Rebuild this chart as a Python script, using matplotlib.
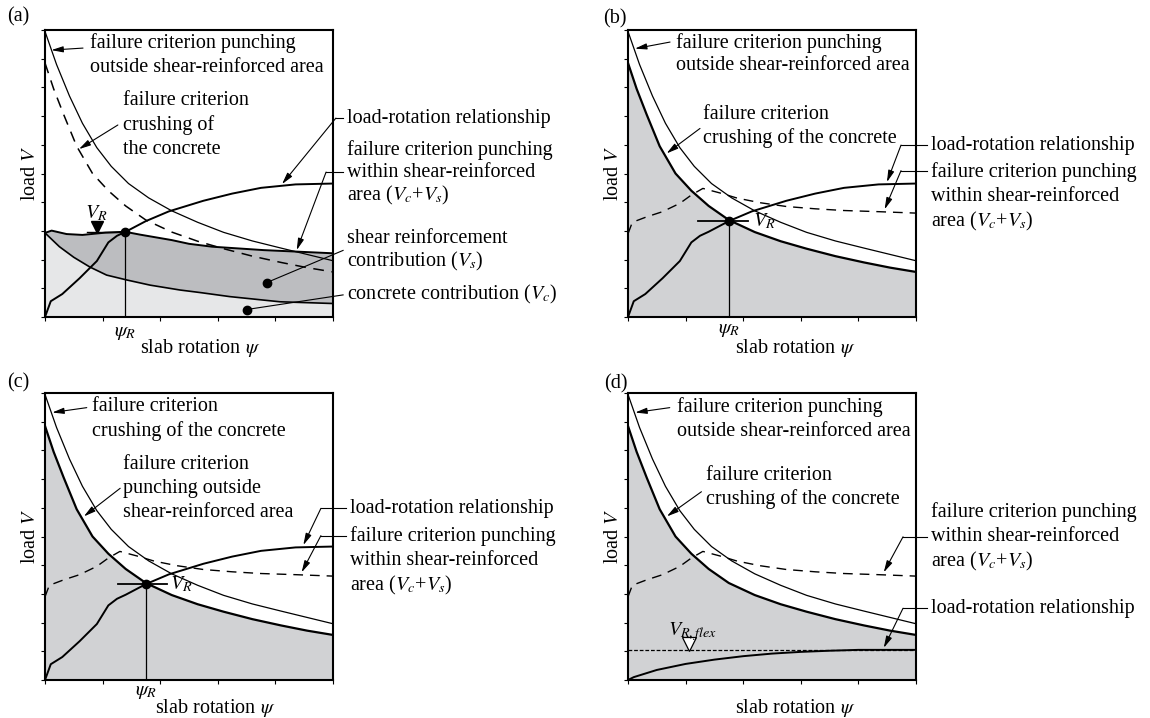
import numpy as np
import matplotlib
matplotlib.use("Agg")
import matplotlib.pyplot as plt

plt.rcParams['font.family'] = ['Liberation Serif', 'DejaVu Serif']
plt.rcParams['mathtext.fontset'] = 'stix'
plt.rcParams['font.size'] = 14.5

# ---- curves (slab rotation psi, load V), normalised 0..1 ----
psi_outer = [0, 0.04, 0.085, 0.13, 0.18, 0.23, 0.29, 0.36, 0.44, 0.53, 0.62, 0.72, 0.82, 0.91, 1.0]
V_outer = [0.995, 0.88, 0.77, 0.675, 0.59, 0.525, 0.465, 0.415, 0.37, 0.33, 0.295, 0.265, 0.24, 0.218, 0.196]

psi_crush = [0, 0.03, 0.065, 0.11, 0.165, 0.22, 0.28, 0.35, 0.44, 0.53, 0.62, 0.72, 0.82, 0.91, 1.0]
V_crush = [0.885, 0.795, 0.705, 0.595, 0.50, 0.44, 0.387, 0.338, 0.296, 0.264, 0.238, 0.212, 0.190, 0.172, 0.157]

psi_lr = [0, 0.02, 0.06, 0.12, 0.18, 0.22, 0.25, 0.28, 0.35, 0.43, 0.55, 0.65, 0.75, 0.87, 1.0]
V_lr = [0, 0.055, 0.08, 0.135, 0.195, 0.26, 0.283, 0.297, 0.334, 0.368, 0.405, 0.430, 0.450, 0.462, 0.465]

# panel (a): concrete + shear reinforcement contributions
psi_vcvs_a = [0, 0.023, 0.075, 0.13, 0.21, 0.278, 0.33, 0.44, 0.50, 0.58, 0.76, 0.87, 1.0]
V_vcvs_a = [0.293, 0.301, 0.289, 0.286, 0.294, 0.297, 0.287, 0.268, 0.255, 0.245, 0.233, 0.228, 0.222]
psi_vc_a = [0, 0.05, 0.1, 0.156, 0.214, 0.284, 0.365, 0.469, 0.54, 0.642, 0.816, 1.0]
V_vc_a = [0.293, 0.245, 0.208, 0.174, 0.146, 0.129, 0.111, 0.094, 0.085, 0.071, 0.053, 0.047]

# panels (b)-(d): punching within shear-reinforced area
psi_vcvs = [0, 0.015, 0.065, 0.12, 0.18, 0.22, 0.26, 0.32, 0.38, 0.46, 0.55, 0.65, 0.75, 0.87, 1.0]
V_vcvs = [0.29, 0.33, 0.349, 0.367, 0.396, 0.425, 0.448, 0.432, 0.414, 0.398, 0.385, 0.377, 0.371, 0.367, 0.362]

# panel (d): flexural failure
psi_lr_d = [0, 0.02, 0.1, 0.2, 0.3, 0.4, 0.5, 0.6, 0.7, 0.8, 1.0]
V_lr_d = [0, 0.01, 0.035, 0.056, 0.071, 0.083, 0.092, 0.098, 0.102, 0.105, 0.105]
V_flex = 0.105

# failure points (psi_R, V_R)
point_a = (0.278, 0.297)
point_bc = (0.352, 0.336)

W, H = 1150, 718
fig = plt.figure(figsize=(W / 100, H / 100), dpi=100)

LIGHT = '#e6e7e8'
DARK = '#bcbdc0'
GREY = '#d1d2d4'
DASH = (7, 5)


def make_axes(left_px, bottom_px):
    ax = fig.add_axes([left_px / W, 1 - bottom_px / H, 288 / W, 287 / H])
    ax.set_xlim(0, 1)
    ax.set_ylim(0, 1)
    ax.set_xticks(np.arange(0, 1.01, 0.2))
    ax.set_yticks(np.arange(0, 1.01, 0.1))
    ax.set_xticklabels([])
    ax.set_yticklabels([])
    ax.tick_params(direction='out', length=3, width=0.8)
    for s in ax.spines.values():
        s.set_linewidth(1.5)
        s.set_zorder(10)
    return ax


def axis_labels(ax, xc, yc=-0.108):
    ax.text(-0.05, 0.5, r"load $V$", rotation=90, ha='center', va='center',
            transform=ax.transAxes)
    ax.text(xc, yc, r"slab rotation $\psi$", ha='center', va='center',
            transform=ax.transAxes)


def block(ax, x, ys, lines):
    for y, s in zip(ys, lines):
        ax.text(x, y, s, ha='left', va='center', clip_on=False)


def arrow(ax, start, tip):
    ax.annotate('', xy=tip, xytext=start, annotation_clip=False,
                arrowprops=dict(arrowstyle='-|>,head_length=0.7,head_width=0.18',
                                color='k', lw=0.8, mutation_scale=10,
                                shrinkA=0, shrinkB=0))


def leader(ax, x_text, x_kink, y, tip):
    ax.plot([x_kink, x_text - 0.012], [y, y], color='k', lw=0.8, clip_on=False)
    arrow(ax, (x_kink, y), tip)


def failure_point(ax, pt, x0, x1, label_x, psi_y=-0.055):
    ax.plot([pt[0], pt[0]], [0, pt[1]], color='k', lw=0.9)
    ax.plot([x0, x1], [pt[1], pt[1]], color='k', lw=1.3)
    ax.plot(*pt, 'o', color='k', ms=6, zorder=6)
    ax.text(label_x, pt[1] - 0.004, r"$V_R$", ha='left', va='center')
    ax.text(pt[0], psi_y, r"$\psi_R$", ha='center', va='center')


# ---------------- (a) ----------------
ax = make_axes(45, 317)
ax.fill_between(psi_vc_a, 0, V_vc_a, color=LIGHT, lw=0)
ax.fill(np.r_[psi_vcvs_a, psi_vc_a[::-1]], np.r_[V_vcvs_a, V_vc_a[::-1]], color=DARK, lw=0)
ax.plot(psi_vc_a, V_vc_a, color='k', lw=1.2)
ax.plot(psi_vcvs_a, V_vcvs_a, color='k', lw=1.4)
ax.plot(psi_outer, V_outer, color='k', lw=0.9)
ax.plot(psi_crush, V_crush, color='k', lw=1.1, dashes=DASH)
ax.plot(psi_lr, V_lr, color='k', lw=1.4)
ax.plot([point_a[0], point_a[0]], [0, point_a[1]], color='k', lw=0.9)
ax.plot([0.145, point_a[0]], [point_a[1], point_a[1]], color='k', lw=1.0)
ax.plot(*point_a, 'o', color='k', ms=6, zorder=6)
ax.plot(0.182, point_a[1] + 0.016, 'v', color='k', ms=8)
ax.text(0.179, 0.361, r"$V_R$", ha='center', va='center')
ax.text(point_a[0], -0.055, r"$\psi_R$", ha='center', va='center')
ax.plot(0.770, 0.120, 'o', color='k', ms=6)
ax.plot(0.700, 0.026, 'o', color='k', ms=6)

block(ax, 0.156, [0.955, 0.869], ["failure criterion punching", "outside shear-reinforced area"])
arrow(ax, (0.132, 0.937), (0.022, 0.930))
block(ax, 0.272, [0.756, 0.669, 0.582], ["failure criterion", "crushing of", "the concrete"])
arrow(ax, (0.253, 0.669), (0.118, 0.585))
block(ax, 1.047, [0.693], ["load-rotation relationship"])
leader(ax, 1.047, 1.01, 0.693, (0.823, 0.463))
block(ax, 1.047, [0.582, 0.505, 0.425],
      ["failure criterion punching", "within shear-reinforced", r"area ($V_c$+$V_s$)"])
leader(ax, 1.047, 0.976, 0.505, (0.874, 0.233))
block(ax, 1.047, [0.272, 0.192], ["shear reinforcement", r"contribution ($V_s$)"])
ax.plot([0.770, 1.035], [0.120, 0.232], color='k', lw=0.8, clip_on=False)
block(ax, 1.047, [0.077], [r"concrete contribution ($V_c$)"])
ax.plot([0.700, 1.035], [0.026, 0.077], color='k', lw=0.8, clip_on=False)
axis_labels(ax, 0.54)

# ---------------- (b) ----------------
ax = make_axes(628, 317)
ax.fill_between(psi_crush, 0, V_crush, color=GREY, lw=0)
ax.plot(psi_outer, V_outer, color='k', lw=0.9)
ax.plot(psi_crush, V_crush, color='k', lw=1.6)
ax.plot(psi_vcvs, V_vcvs, color='k', lw=1.0, dashes=DASH)
ax.plot(psi_lr, V_lr, color='k', lw=1.4)
failure_point(ax, point_bc, 0.244, 0.418, 0.434, -0.045)
block(ax, 0.165, [0.955, 0.878], ["failure criterion punching", "outside shear-reinforced area"])
arrow(ax, (0.146, 0.958), (0.024, 0.935))
block(ax, 0.259, [0.704, 0.623], ["failure criterion", "crushing of the concrete"])
arrow(ax, (0.25, 0.657), (0.134, 0.57))
block(ax, 1.051, [0.599], ["load-rotation relationship"])
leader(ax, 1.051, 0.948, 0.599, (0.899, 0.47))
block(ax, 1.051, [0.506, 0.419, 0.332],
      ["failure criterion punching", "within shear-reinforced", r"area ($V_c$+$V_s$)"])
leader(ax, 1.051, 0.948, 0.51, (0.891, 0.375))
axis_labels(ax, 0.58)

# ---------------- (c) ----------------
ax = make_axes(45, 680)
ax.fill_between(psi_crush, 0, V_crush, color=GREY, lw=0)
ax.plot(psi_outer, V_outer, color='k', lw=0.9)
ax.plot(psi_crush, V_crush, color='k', lw=1.6)
ax.plot(psi_vcvs, V_vcvs, color='k', lw=1.0, dashes=DASH)
ax.plot(psi_lr, V_lr, color='k', lw=1.4)
failure_point(ax, point_bc, 0.252, 0.422, 0.434, -0.04)
block(ax, 0.1625, [0.952, 0.868], ["failure criterion", "crushing of the concrete"])
arrow(ax, (0.145, 0.949), (0.025, 0.932))
block(ax, 0.270, [0.752, 0.668, 0.583], ["failure criterion", "punching outside", "shear-reinforced area"])
arrow(ax, (0.261, 0.668), (0.135, 0.57))
block(ax, 1.058, [0.598], ["load-rotation relationship"])
leader(ax, 1.058, 0.958, 0.598, (0.897, 0.47))
block(ax, 1.058, [0.503, 0.418, 0.328],
      ["failure criterion punching", "within shear-reinforced", r"area ($V_c$+$V_s$)"])
leader(ax, 1.058, 0.958, 0.503, (0.891, 0.375))
axis_labels(ax, 0.59, -0.097)

# ---------------- (d) ----------------
ax = make_axes(628, 680)
ax.fill_between(psi_crush, 0, V_crush, color=GREY, lw=0)
ax.plot(psi_outer, V_outer, color='k', lw=0.9)
ax.plot(psi_crush, V_crush, color='k', lw=1.6)
ax.plot(psi_vcvs, V_vcvs, color='k', lw=1.0, dashes=DASH)
ax.plot([0, 1], [V_flex, V_flex], color='k', lw=0.9, dashes=(3, 1.5))
ax.plot(psi_lr_d, V_lr_d, color='k', lw=1.4)
ax.plot(0.213, V_flex + 0.019, 'v', mfc='white', mec='k', mew=0.9, ms=10)
ax.text(0.224, 0.168, r"$V_{R,flex}$", ha='center', va='center')
block(ax, 0.171, [0.952, 0.865], ["failure criterion punching", "outside shear-reinforced area"])
arrow(ax, (0.145, 0.949), (0.025, 0.932))
block(ax, 0.271, [0.714, 0.630], ["failure criterion", "crushing of the concrete"])
arrow(ax, (0.255, 0.656), (0.135, 0.57))
block(ax, 1.051, [0.586, 0.499, 0.412],
      ["failure criterion punching", "within shear-reinforced", r"area ($V_c$+$V_s$)"])
leader(ax, 1.051, 0.955, 0.499, (0.888, 0.375))
block(ax, 1.051, [0.250], ["load-rotation relationship"])
leader(ax, 1.051, 0.955, 0.250, (0.888, 0.112))
axis_labels(ax, 0.58, -0.097)

# panel letters
for letter, x, y in [("(a)", 7, 17), ("(b)", 603, 19), ("(c)", 7, 383), ("(d)", 604, 384)]:
    fig.text(x / W, 1 - y / H, letter, ha='left', va='center')

fig.savefig("out.png", dpi=100)
